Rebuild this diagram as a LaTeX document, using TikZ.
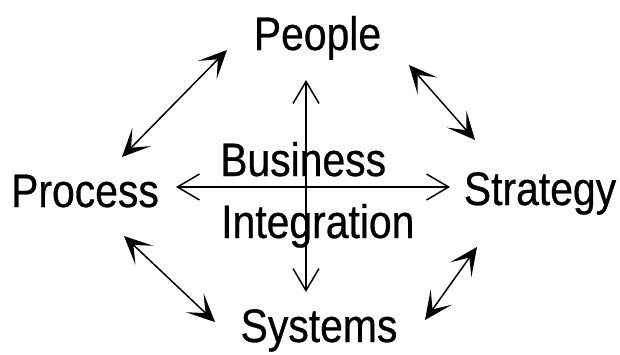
\documentclass[tikz,border=0pt]{standalone}
\usepackage{fontspec}
\newfontfamily\lbl[FakeStretch=0.87,FakeBold=0.6]{Liberation Sans}
\usetikzlibrary{arrows.meta}
\begin{document}
\begin{tikzpicture}[x=1pt,y=-1pt,
  lab/.style={inner sep=0pt, anchor=base, font=\lbl\fontsize{47}{56}\selectfont},
  labw/.style={inner sep=0pt, anchor=base west, font=\lbl\fontsize{47}{56}\selectfont},
  crossarrow/.style={line width=1.5pt,
    arrows={Straight Barb[length=22pt,width=26pt]-Straight Barb[length=22pt,width=26pt]}},
  diagarrow/.style={line width=1.5pt,
    arrows={Stealth[length=28pt,width=26pt,inset=15pt]-Stealth[length=28pt,width=26pt,inset=15pt]}}]
\useasboundingbox (0,0) rectangle (620,354);
\fill[white] (0,0) rectangle (620,354);
\node[lab] (people) at (317.5,50) {People};
\node[lab] (process) at (85,207) {Process};
\node[lab] (strategy) at (540,205) {Strategy};
\node[lab] (systems) at (319,342) {Systems};
\node[labw] (business) at (220,176) {Business};
\node[labw] (integration) at (221,238) {Integration};
% arrow end points
\coordinate (hL) at (176,187);
\coordinate (hR) at (450,187);
\coordinate (vT) at (306,80);
\coordinate (vB) at (306,292);
\coordinate (ulA) at (122,157);
\coordinate (ulB) at (227,50);
\coordinate (urA) at (409,65);
\coordinate (urB) at (475,140);
\coordinate (llA) at (124,236);
\coordinate (llB) at (215,322);
\coordinate (lrA) at (477,247);
\coordinate (lrB) at (425,320);
\draw[crossarrow] (hL) -- (hR);
\draw[crossarrow] (vT) -- (vB);
\draw[diagarrow] (ulA) -- (ulB);
\draw[diagarrow] (urA) -- (urB);
\draw[diagarrow] (llA) -- (llB);
\draw[diagarrow] (lrA) -- (lrB);
\end{tikzpicture}
\end{document}
